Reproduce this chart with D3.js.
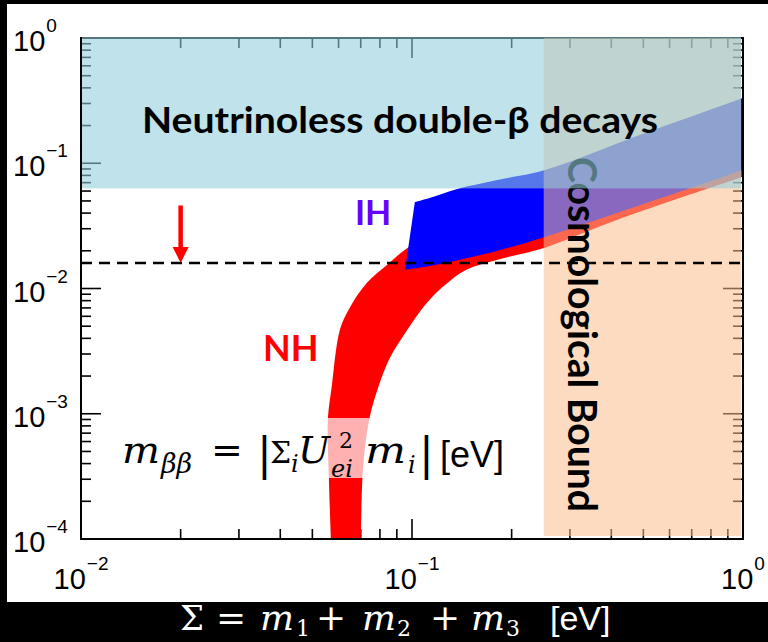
<!DOCTYPE html>
<meta charset="utf-8">
<style>
body { margin: 0; background: #000; }
svg { display: block; }
.tick-label { font: 29px "Liberation Sans", Arial, sans-serif; fill: #000; }
.bold-label { font-family: Lato, "Open Sans", sans-serif; font-weight: 700; }
</style>
<svg width="768" height="642"></svg>
<script src="https://d3js.org/d3.v7.min.js"></script>
<script>

var svg = d3.select("svg"),
  width = +svg.attr("width"),
  height = +svg.attr("height");

// axes: sum of neutrino masses [eV] vs effective Majorana mass [eV]
var sumDomain = [0.01, 1];
var mbbDomain = [1e-4, 1];
var xDecades = [0.01, 0.1, 1];
var xExponents = ["\u22122", "\u22121", "0"];
var yDecades = [1e-4, 1e-3, 1e-2, 1e-1, 1];
var yExponents = ["\u22124", "\u22123", "\u22122", "\u22121", "0"];

// normal hierarchy band, [sum, mbb]
var nhUpper = [[0.0569, 1.0e-4], [0.0561, 3.0e-4], [0.0557, 8.9e-4], [0.0573, 1.7e-3],
  [0.0606, 4.7e-3], [0.0650, 7.1e-3], [0.0731, 0.0111], [0.0840, 0.0154], [0.0966, 0.0210],
  [0.113, 0.0263], [0.150, 0.0340], [0.252, 0.0509], [1.0, 0.22]];
var nhLower = [[0.0701, 1.0e-4], [0.0711, 3.6e-4], [0.0742, 8.9e-4], [0.0795, 1.7e-3],
  [0.0858, 2.8e-3], [0.0953, 4.4e-3], [0.111, 7.7e-3], [0.126, 0.0107], [0.145, 0.0140],
  [0.185, 0.0172], [0.252, 0.0212], [0.425, 0.0360], [1.0, 0.0780]];

// inverted hierarchy band
var ihUpper = [[0.102, 0.0490], [0.113, 0.0528], [0.137, 0.0623], [0.181, 0.0735],
  [0.252, 0.0883], [0.488, 0.168], [1.0, 0.332]];
var ihLower = [[0.0953, 0.0141], [0.113, 0.0151], [0.147, 0.0175], [0.185, 0.0203],
  [0.252, 0.0258], [0.425, 0.0408], [1.0, 0.0883]];

var onbbLimit = 0.063;    // 0vbb excluded above
var cosmoLimit = 0.25;    // cosmology excluded to the right
var sensitivity = 0.016;  // future reach (dashed)
var arrowSum = 0.02, arrowTop = 0.046;

var x = d3.scaleLog().domain(sumDomain).range([81, 743]);
var y = d3.scaleLog().domain(mbbDomain).range([539, 38]);
var x0 = x.range()[0], x1 = x.range()[1], yb = y.range()[0], yt = y.range()[1];

// black frame with white card
svg.append("rect").attr("width", width).attr("height", height).attr("fill", "#000");
svg.append("rect").attr("x", 7).attr("y", 4).attr("width", width - 7).attr("height", 598).attr("fill", "#fff");

svg.append("clipPath").attr("id", "plot").append("rect")
  .attr("x", x0).attr("y", yt).attr("width", x1 - x0).attr("height", yb - yt);

function isMajor(v) { var l = Math.log10(v); return Math.abs(l - Math.round(l)) < 1e-6; }

// ticks on all four sides, pointing in
var ticks = svg.append("g").attr("stroke", "#000").attr("stroke-width", 1.6);
x.ticks().filter(function(v) { return v > sumDomain[0] * 1.001 && v < sumDomain[1] * 0.999; })
  .forEach(function(v) {
    var len = isMajor(v) ? 20 : 10;
    ticks.append("line").attr("x1", x(v)).attr("x2", x(v)).attr("y1", yb).attr("y2", yb - len);
    ticks.append("line").attr("x1", x(v)).attr("x2", x(v)).attr("y1", yt).attr("y2", yt + len);
  });
y.ticks().filter(function(v) { return v > mbbDomain[0] * 1.001 && v < mbbDomain[1] * 0.999; })
  .forEach(function(v) {
    var len = isMajor(v) ? 20 : 10;
    ticks.append("line").attr("y1", y(v)).attr("y2", y(v)).attr("x1", x0).attr("x2", x0 + len);
    ticks.append("line").attr("y1", y(v)).attr("y2", y(v)).attr("x1", x1).attr("x2", x1 - len);
  });

// top border sits under the overlays
svg.append("line").attr("x1", x0).attr("x2", x1).attr("y1", yt).attr("y2", yt)
  .attr("stroke", "#000").attr("stroke-width", 2);

// bands
var edge = d3.line().x(function(d) { return x(d[0]); }).y(function(d) { return y(d[1]); })
  .curve(d3.curveCatmullRom.alpha(0.5));
function band(upper, lower) {
  return edge(upper) + edge(lower.slice().reverse()).replace("M", "L") + "Z";
}
var plot = svg.append("g").attr("clip-path", "url(#plot)");
plot.append("path").attr("d", band(nhUpper, nhLower)).attr("fill", "#ff0000");
plot.append("path").attr("d", band(ihUpper, ihLower)).attr("fill", "#0000ff");

// formula backing box
svg.append("rect").attr("x", 108).attr("y", 418).attr("width", 410).attr("height", 60)
  .attr("fill", "#fff").attr("opacity", 0.69);

// cosmological bound
svg.append("rect").attr("x", x(cosmoLimit)).attr("y", yt)
  .attr("width", x1 - 2 - x(cosmoLimit)).attr("height", yb - 3 - yt)
  .attr("fill", "rgb(250,190,140)").attr("opacity", 0.55);
svg.append("text").attr("class", "bold-label")
  .attr("transform", "translate(568,157) rotate(90)")
  .attr("font-size", 40).attr("textLength", 355).attr("lengthAdjust", "spacingAndGlyphs")
  .text("Cosmological Bound");

// 0vbb exclusion
svg.append("rect").attr("x", x0 + 1).attr("y", yt - 1)
  .attr("width", x1 - 3 - x0).attr("height", y(onbbLimit) - yt + 1)
  .attr("fill", "rgb(147,205,219)").attr("opacity", 0.58);
svg.append("text").attr("class", "bold-label")
  .attr("x", 142).attr("y", 133).attr("font-size", 37)
  .attr("textLength", 516).attr("lengthAdjust", "spacingAndGlyphs")
  .text("Neutrinoless double-\u03b2 decays");

// sensitivity line and arrow
svg.append("line").attr("x1", x0).attr("x2", x1).attr("y1", y(sensitivity)).attr("y2", y(sensitivity))
  .attr("stroke", "#000").attr("stroke-width", 2.5).attr("stroke-dasharray", "11,7");
var ax = x(arrowSum), tip = y(sensitivity);
svg.append("line").attr("x1", ax).attr("x2", ax).attr("y1", y(arrowTop)).attr("y2", tip - 12)
  .attr("stroke", "#ff0000").attr("stroke-width", 4.5);
svg.append("path").attr("d", "M" + (ax - 8) + "," + (tip - 16) + "L" + (ax + 8) + "," + (tip - 16) + "L" + ax + "," + tip + "Z")
  .attr("fill", "#ff0000");

// hierarchy labels
svg.append("text").attr("class", "bold-label").attr("x", 355).attr("y", 225)
  .attr("font-size", 34).attr("fill", "#6600ff").text("IH");
svg.append("text").attr("class", "bold-label").attr("x", 263).attr("y", 361)
  .attr("font-size", 36).attr("fill", "#ff0000").text("NH");

// math pieces: [text, x, baseline, size, italic, family, width]
var serif = "'DejaVu Serif', 'Liberation Serif', serif",
  sans = "'Liberation Sans', Arial, sans-serif";
function mathText(pieces, color) {
  pieces.forEach(function(p) {
    var t = svg.append("text").attr("x", p[1]).attr("y", p[2])
      .attr("font-size", p[3]).attr("font-style", p[4] ? "italic" : "normal")
      .attr("font-family", p[5] || serif).attr("fill", color)
      .text(p[0]);
    if (p[6]) t.attr("textLength", p[6]).attr("lengthAdjust", "spacingAndGlyphs");
  });
}
mathText([
  ["m", 122, 463, 38, 1, null, 38], ["\u03b2\u03b2", 161, 473, 27, 1], ["=", 211, 463, 38, 0],
  ["|", 257, 469, 44, 0], ["\u03a3", 270, 463, 30, 0], ["i", 291, 472, 24, 1],
  ["U", 298, 463, 38, 1], ["2", 339, 448, 22, 0], ["ei", 331, 477, 24, 1],
  ["m", 365, 463, 38, 1, null, 41], ["i", 408, 473, 24, 1], ["|", 419, 469, 44, 0],
  ["[eV]", 440, 467, 36, 0, sans]
], "#000");

mathText([
  ["\u03a3", 180, 630, 34, 0], ["=", 216, 630, 36, 0], ["m", 260, 630, 36, 1, null, 34], ["1", 296, 636, 22, 0],
  ["+", 316, 630, 36, 0], ["m", 362, 630, 36, 1, null, 34], ["2", 397, 636, 22, 0],
  ["+", 430, 630, 36, 0], ["m", 471, 630, 36, 1, null, 34], ["3", 506, 636, 22, 0],
  ["[eV]", 550, 630, 34, 0, sans]
], "#fff");

// tick labels
xDecades.forEach(function(v, i) {
  var t = svg.append("text").attr("class", "tick-label")
    .attr("x", x(v)).attr("y", 589).attr("text-anchor", "middle").text("10");
  t.append("tspan").attr("dx", 1).attr("dy", -19).attr("font-size", 19).text(xExponents[i]);
});
yDecades.forEach(function(v, i) {
  var t = svg.append("text").attr("class", "tick-label")
    .attr("x", 13).attr("y", y(v) + 13).text("10");
  t.append("tspan").attr("dx", 1).attr("dy", -19).attr("font-size", 19).text(yExponents[i]);
});

// frame on top
var frame = svg.append("g").attr("stroke", "#000").attr("stroke-width", 2).attr("fill", "none");
frame.append("line").attr("x1", x0).attr("x2", x0).attr("y1", yt - 1).attr("y2", yb + 1);
frame.append("line").attr("x1", x0 - 1).attr("x2", x1 + 1).attr("y1", yb).attr("y2", yb);
frame.append("line").attr("x1", x1).attr("x2", x1).attr("y1", yt - 1).attr("y2", yb + 1);

</script>
